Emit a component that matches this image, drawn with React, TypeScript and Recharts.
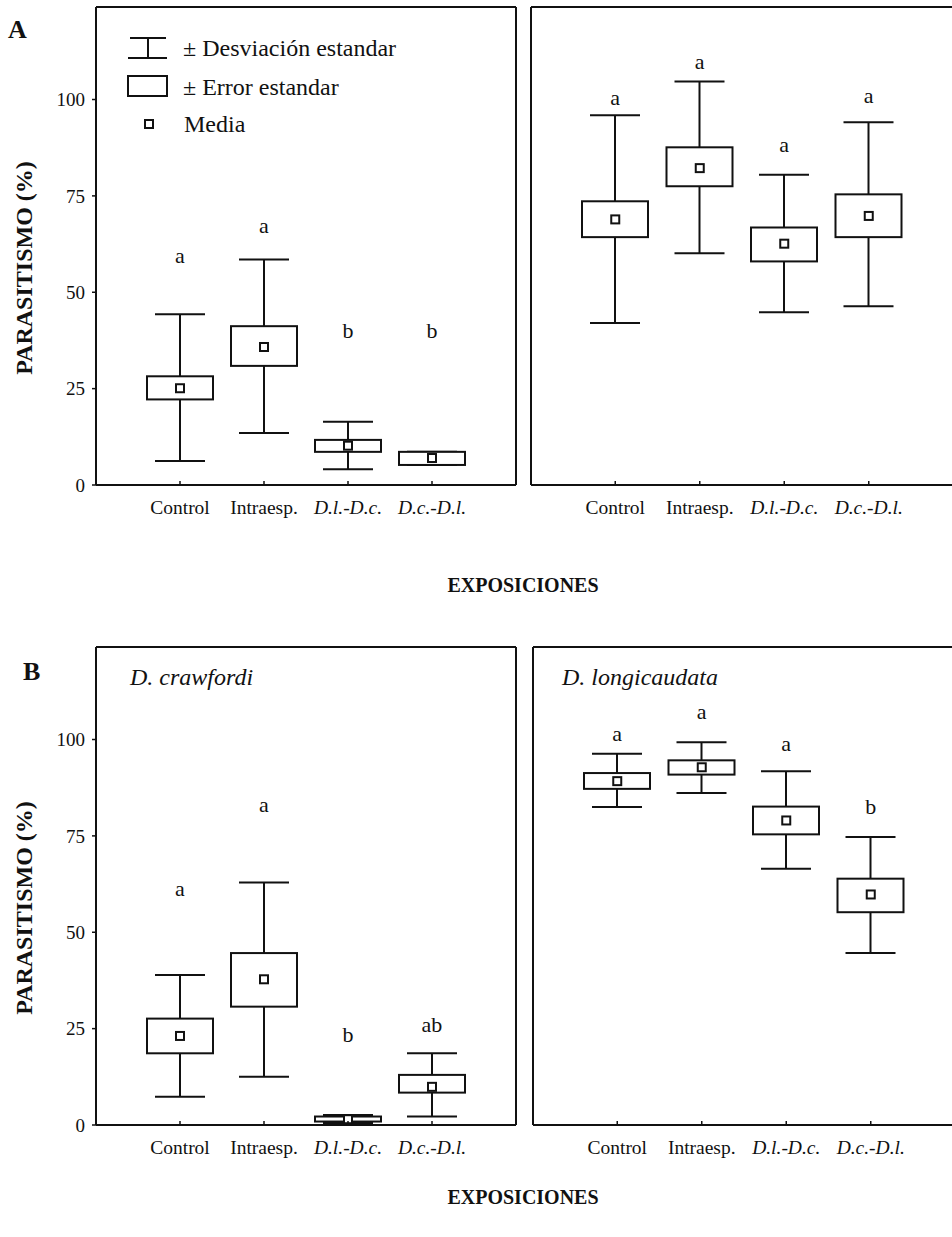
import React from "react";
import { Bar, ComposedChart, Scatter, XAxis, YAxis } from "recharts";

const categories = ["Control", "Intraesp.", "D.l.-D.c.", "D.c.-D.l."];
const yTicks = [0, 25, 50, 75, 100];

// A, left panel
const a1Mean = [25.1, 35.8, 10.2, 7.0];
const a1SeLo = [22.2, 30.9, 8.6, 5.2];
const a1SeHi = [28.2, 41.2, 11.7, 8.6];
const a1SdLo = [6.2, 13.5, 4.1, 5.2];
const a1SdHi = [44.3, 58.5, 16.4, 8.6];
const a1Letters = ["a", "a", "b", "b"];
const a1LetterY = [57.5, 65.3, 38.1, 38.1];

// A, right panel
const a2Mean = [68.9, 82.2, 62.6, 69.8];
const a2SeLo = [64.3, 77.5, 58.0, 64.3];
const a2SeHi = [73.6, 87.6, 66.8, 75.4];
const a2SdLo = [42.0, 60.1, 44.8, 46.4];
const a2SdHi = [95.9, 104.7, 80.5, 94.1];
const a2Letters = ["a", "a", "a", "a"];
const a2LetterY = [98.7, 108.0, 86.3, 99.0];

// B, D. crawfordi
const b1Mean = [23.1, 37.8, 1.5, 9.9];
const b1SeLo = [18.6, 30.7, 0.9, 8.4];
const b1SeHi = [27.6, 44.6, 2.2, 13.0];
const b1SdLo = [7.3, 12.5, 0.5, 2.2];
const b1SdHi = [38.9, 62.9, 2.6, 18.6];
const b1Letters = ["a", "a", "b", "ab"];
const b1LetterY = [59.3, 81.1, 21.5, 24.1];

// B, D. longicaudata
const b2Mean = [89.2, 92.8, 79.0, 59.8];
const b2SeLo = [87.2, 90.9, 75.4, 55.2];
const b2SeHi = [91.3, 94.6, 82.6, 63.9];
const b2SdLo = [82.5, 86.1, 66.5, 44.6];
const b2SdHi = [96.3, 99.3, 91.8, 74.7];
const b2Letters = ["a", "a", "a", "b"];
const b2LetterY = [99.7, 105.2, 96.9, 80.6];

const ink = "#111";
const serif = "'Liberation Serif', 'Times New Roman', serif";
const frame = { stroke: ink, strokeWidth: 2 };
const tickMark = { stroke: ink, strokeWidth: 1.5 };

function rows(
  mean: number[],
  seLo: number[],
  seHi: number[],
  sdLo: number[],
  sdHi: number[],
  letters: string[],
  letterY: number[]
) {
  return categories.map((name, i) => ({
    name,
    mean: mean[i],
    se: [seLo[i], seHi[i]],
    sd: [sdLo[i], sdHi[i]],
    letter: letters[i],
    letterY: letterY[i],
  }));
}

const a1Data = rows(a1Mean, a1SeLo, a1SeHi, a1SdLo, a1SdHi, a1Letters, a1LetterY);
const a2Data = rows(a2Mean, a2SeLo, a2SeHi, a2SdLo, a2SdHi, a2Letters, a2LetterY);
const b1Data = rows(b1Mean, b1SeLo, b1SeHi, b1SdLo, b1SdHi, b1Letters, b1LetterY);
const b2Data = rows(b2Mean, b2SeLo, b2SeHi, b2SdLo, b2SdHi, b2Letters, b2LetterY);

// ± SD: stem plus two caps
function Whisker(props: any) {
  const { x, y, width, height } = props;
  const cx = x + width / 2;
  const top = Math.min(y, y + height);
  const bottom = Math.max(y, y + height);
  return (
    <g stroke={ink} strokeWidth={2}>
      <line x1={cx} y1={top} x2={cx} y2={bottom} />
      <line x1={cx - 25} y1={top} x2={cx + 25} y2={top} />
      <line x1={cx - 25} y1={bottom} x2={cx + 25} y2={bottom} />
    </g>
  );
}

// ± SE box, white so the stem does not show through
function SeBox(props: any) {
  const { x, y, width, height } = props;
  const top = Math.min(y, y + height);
  return (
    <rect
      x={x}
      y={top}
      width={width}
      height={Math.abs(height)}
      fill="#fff"
      stroke={ink}
      strokeWidth={2}
    />
  );
}

function MeanMark({ cx, cy }: any) {
  return (
    <rect x={cx - 4} y={cy - 4} width={8} height={8} fill="#fff" stroke={ink} strokeWidth={2} />
  );
}

function LetterMark({ cx, cy, payload }: any) {
  return (
    <text x={cx} y={cy} textAnchor="middle" fontSize={22} fontFamily={serif} fill={ink}>
      {payload.letter}
    </text>
  );
}

function CategoryTick({ x, y, payload }: any) {
  const italic = String(payload.value).startsWith("D.");
  return (
    <g>
      <line x1={x} y1={y} x2={x} y2={y - 4} {...tickMark} />
      <text
        x={x}
        y={y + 29}
        textAnchor="middle"
        fontSize={19.5}
        fontStyle={italic ? "italic" : "normal"}
        fontFamily={serif}
        fill={ink}
      >
        {payload.value}
      </text>
    </g>
  );
}

function BoxPanel({ data, left, top, first }: { data: any[]; left: number; top: number; first: boolean }) {
  return (
    <div style={{ position: "absolute", left, top }}>
      <ComposedChart
        width={first ? 520 : 443}
        height={520}
        data={data}
        margin={{ top: 7, right: first ? 4 : 1, bottom: 5, left: 0 }}
        barGap={-66}
      >
        <XAxis
          dataKey="name"
          type="category"
          interval={0}
          padding={{ left: 42, right: 42 }}
          height={30}
          tickSize={0}
          tickMargin={0}
          tickLine={false}
          axisLine={frame}
          tick={<CategoryTick />}
        />
        <XAxis
          xAxisId="top"
          dataKey="name"
          type="category"
          orientation="top"
          mirror
          interval={0}
          padding={{ left: 42, right: 42 }}
          height={1}
          tick={false}
          tickSize={4}
          tickLine={tickMark}
          axisLine={frame}
        />
        <YAxis
          type="number"
          domain={[0, 124]}
          ticks={yTicks}
          width={first ? 96 : 20}
          tickSize={4}
          tickMargin={7}
          tickLine={tickMark}
          axisLine={frame}
          tick={first ? { fontSize: 19, fill: ink, fontFamily: serif } : false}
        />
        <YAxis
          yAxisId="right"
          type="number"
          orientation="right"
          mirror
          domain={[0, 124]}
          ticks={yTicks}
          width={1}
          tickSize={4}
          tickLine={tickMark}
          axisLine={frame}
          tick={false}
        />
        <Bar dataKey="sd" barSize={66} shape={Whisker} isAnimationActive={false} />
        <Bar dataKey="se" barSize={66} shape={SeBox} isAnimationActive={false} />
        <Scatter dataKey="mean" shape={MeanMark} isAnimationActive={false} />
        <Scatter
          xAxisId="top"
          yAxisId="right"
          dataKey="letterY"
          shape={LetterMark}
          isAnimationActive={false}
        />
      </ComposedChart>
    </div>
  );
}

function Annotations() {
  return (
    <svg
      width={952}
      height={1237}
      style={{ position: "absolute", left: 0, top: 0 }}
      fontFamily={serif}
      fill={ink}
    >
      {/* row A */}
      <text x={8} y={38} fontSize={26} fontWeight="bold">A</text>
      <text transform="translate(32 268) rotate(-90)" textAnchor="middle" fontSize={24} fontWeight="bold">
        PARASITISMO (%)
      </text>
      <g stroke={ink} strokeWidth={2} fill="none">
        <line x1={130} y1={38} x2={166} y2={38} />
        <line x1={148} y1={38} x2={148} y2={58} />
        <line x1={128} y1={58} x2={167} y2={58} />
        <rect x={128} y={76} width={39} height={20} fill="#fff" />
        <rect x={145} y={120} width={8} height={8} fill="#fff" />
      </g>
      <text x={183} y={56} fontSize={24}>± Desviación estandar</text>
      <text x={183} y={95} fontSize={24}>± Error estandar</text>
      <text x={184} y={132} fontSize={24}>Media</text>
      <text x={523} y={592} textAnchor="middle" fontSize={20} fontWeight="bold">EXPOSICIONES</text>

      {/* row B */}
      <text x={23} y={680} fontSize={26} fontWeight="bold">B</text>
      <text transform="translate(32 908) rotate(-90)" textAnchor="middle" fontSize={24} fontWeight="bold">
        PARASITISMO (%)
      </text>
      <text x={130} y={685} fontSize={24} fontStyle="italic">D. crawfordi</text>
      <text x={562} y={685} fontSize={24} fontStyle="italic">D. longicaudata</text>
      <text x={523} y={1204} textAnchor="middle" fontSize={20} fontWeight="bold">EXPOSICIONES</text>
    </svg>
  );
}

export default function App() {
  return (
    <div
      style={{
        position: "absolute",
        left: 0,
        top: 0,
        width: 952,
        height: 1237,
        overflow: "hidden",
        background: "#fff",
      }}
    >
      <Annotations />
      <BoxPanel data={a1Data} left={0} top={0} first />
      <BoxPanel data={a2Data} left={511} top={0} first={false} />
      <BoxPanel data={b1Data} left={0} top={640} first />
      <BoxPanel data={b2Data} left={513} top={640} first={false} />
    </div>
  );
}
